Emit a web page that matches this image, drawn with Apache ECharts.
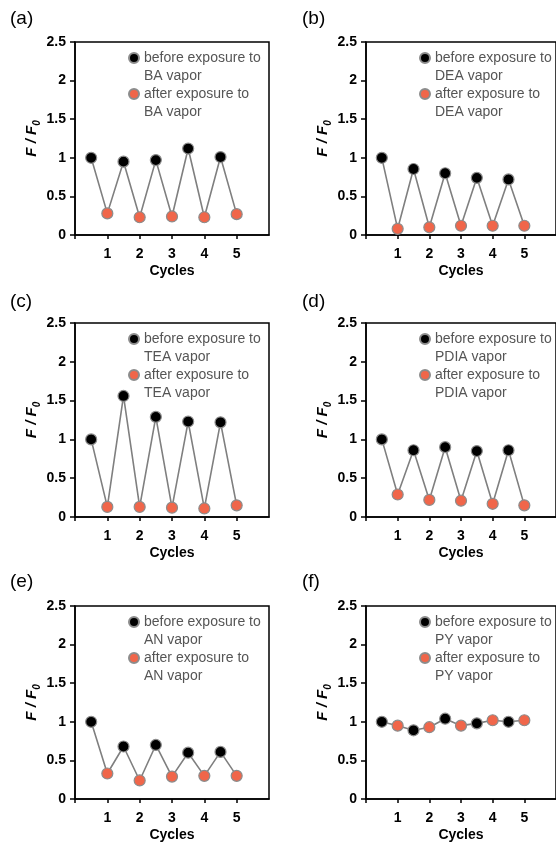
<!DOCTYPE html>
<html>
<head>
<meta charset="utf-8">
<script src="https://cdn.jsdelivr.net/npm/echarts@6/dist/echarts.min.js"></script>
<style>
html,body{margin:0;padding:0;background:#fff;}
#chart{width:556px;height:843px;}
</style>
</head>
<body>
<div id="chart"></div>
<script>
// ---- data ----
const panelLabels = ['(a)', '(b)', '(c)', '(d)', '(e)', '(f)'];
const vapors = ['BA', 'DEA', 'TEA', 'PDIA', 'AN', 'PY'];
const xBefore = [0.5, 1.5, 2.5, 3.5, 4.5];
const xAfter = [1, 2, 3, 4, 5];
const xTickLabels = [1, 2, 3, 4, 5];
const yTicks = [0, 0.5, 1, 1.5, 2, 2.5];

const beforeBA = [1.00, 0.95, 0.97, 1.12, 1.01];
const afterBA = [0.28, 0.23, 0.24, 0.23, 0.27];
const beforeDEA = [1.00, 0.855, 0.80, 0.74, 0.72];
const afterDEA = [0.08, 0.10, 0.12, 0.12, 0.12];
const beforeTEA = [1.00, 1.56, 1.29, 1.23, 1.22];
const afterTEA = [0.13, 0.13, 0.12, 0.11, 0.15];
const beforePDIA = [1.00, 0.86, 0.90, 0.85, 0.86];
const afterPDIA = [0.29, 0.22, 0.21, 0.17, 0.15];
const beforeAN = [1.00, 0.68, 0.70, 0.60, 0.61];
const afterAN = [0.33, 0.24, 0.29, 0.30, 0.30];
const beforePY = [1.00, 0.89, 1.04, 0.98, 1.00];
const afterPY = [0.95, 0.93, 0.95, 1.02, 1.02];

const beforeSets = [beforeBA, beforeDEA, beforeTEA, beforePDIA, beforeAN, beforePY];
const afterSets = [afterBA, afterDEA, afterTEA, afterPDIA, afterAN, afterPY];

// ---- layout ----
const FONT = '"Liberation Sans", Arial, sans-serif';
const colLeft = [75, 366];
const gridWidth = 194;
const rowTop = [42, 323, 606];
const rowHeight = [193, 194, 193];

const chart = echarts.init(document.getElementById('chart'), null, {renderer: 'canvas'});

const grids = [], xAxes = [], yAxes = [], series = [], legends = [], titles = [];

for (let i = 0; i < 6; i++) {
  const col = i % 2, row = Math.floor(i / 2);
  const left = colLeft[col], top = rowTop[row], h = rowHeight[row];
  grids.push({
    left: left, top: top, width: gridWidth, height: h,
    show: true, borderColor: '#000', borderWidth: 1.5, backgroundColor: 'transparent'
  });
  xAxes.push({
    gridIndex: i, type: 'value', min: 0, max: 6, interval: 1,
    name: 'Cycles', nameLocation: 'middle', nameGap: 29,
    nameTextStyle: {fontFamily: FONT, fontWeight: 'bold', fontSize: 14, color: '#000'},
    axisLine: {show: true, onZero: false, lineStyle: {color: '#000', width: 1.5}},
    axisTick: {show: true, inside: false, length: 4, lineStyle: {color: '#000', width: 1.5},
               customValues: [0].concat(xTickLabels)},
    axisLabel: {show: true, customValues: xTickLabels, margin: 12,
                fontFamily: FONT, fontWeight: 'bold', fontSize: 14, color: '#000'},
    splitLine: {show: false}
  });
  yAxes.push({
    gridIndex: i, type: 'value', min: yTicks[0], max: yTicks[yTicks.length - 1], interval: 0.5,
    name: '{a|F / F}{b|0}', nameLocation: 'middle', nameGap: 33, nameRotate: 90,
    nameTextStyle: {
      rich: {
        a: {fontFamily: FONT, fontWeight: 'bold', fontStyle: 'italic', fontSize: 15, color: '#000', lineHeight: 20, verticalAlign: 'middle'},
        b: {fontFamily: FONT, fontWeight: 'bold', fontStyle: 'italic', fontSize: 10, color: '#000', lineHeight: 10, verticalAlign: 'bottom'}
      }
    },
    axisLine: {show: true, lineStyle: {color: '#000', width: 1.5}},
    axisTick: {show: true, inside: false, length: 5, lineStyle: {color: '#000', width: 1.5}},
    axisLabel: {margin: 9, fontFamily: FONT, fontWeight: 'bold', fontSize: 14, color: '#000'},
    splitLine: {show: false}
  });

  const before = beforeSets[i], after = afterSets[i];
  const lineData = [];
  for (let k = 0; k < xBefore.length; k++) {
    lineData.push([xBefore[k], before[k]]);
    lineData.push([xAfter[k], after[k]]);
  }
  const nameBefore = 'before exposure to\n' + vapors[i] + ' vapor';
  const nameAfter = 'after exposure to\n' + vapors[i] + ' vapor';
  series.push({
    type: 'line', xAxisIndex: i, yAxisIndex: i, data: lineData,
    symbol: 'none', lineStyle: {color: '#7f7f7f', width: 1.6}, z: 1, silent: true
  });
  series.push({
    name: nameBefore, type: 'scatter', xAxisIndex: i, yAxisIndex: i,
    data: xBefore.map((x, k) => [x, before[k]]),
    symbol: 'circle', symbolSize: 11,
    itemStyle: {color: '#000', borderColor: '#8c8c8c', borderWidth: 1.2, opacity: 1}, z: 3
  });
  series.push({
    name: nameAfter, type: 'scatter', xAxisIndex: i, yAxisIndex: i,
    data: xAfter.map((x, k) => [x, after[k]]),
    symbol: 'circle', symbolSize: 11,
    itemStyle: {color: '#F0664A', borderColor: '#8c8c8c', borderWidth: 1.2, opacity: 1}, z: 3
  });
  legends.push({
    data: [nameBefore, nameAfter],
    formatter: function (name) { return '\n' + name; },
    orient: 'vertical', left: left + 53, top: top - 11,
    padding: 0, itemGap: -18, itemWidth: 10, itemHeight: 10,
    icon: 'circle', selectedMode: false,
    textStyle: {fontFamily: FONT, fontSize: 14, color: '#555', lineHeight: 18}
  });
  titles.push({
    text: panelLabels[i], left: col === 0 ? 10 : 302, top: [9, 292, 572][row],
    padding: 0,
    textStyle: {fontFamily: FONT, fontWeight: 'normal', fontSize: 19, color: '#000'}
  });
}

chart.setOption({
  backgroundColor: '#fff',
  animation: false,
  title: titles,
  legend: legends,
  grid: grids,
  xAxis: xAxes,
  yAxis: yAxes,
  series: series
});
</script>
</body>
</html>
